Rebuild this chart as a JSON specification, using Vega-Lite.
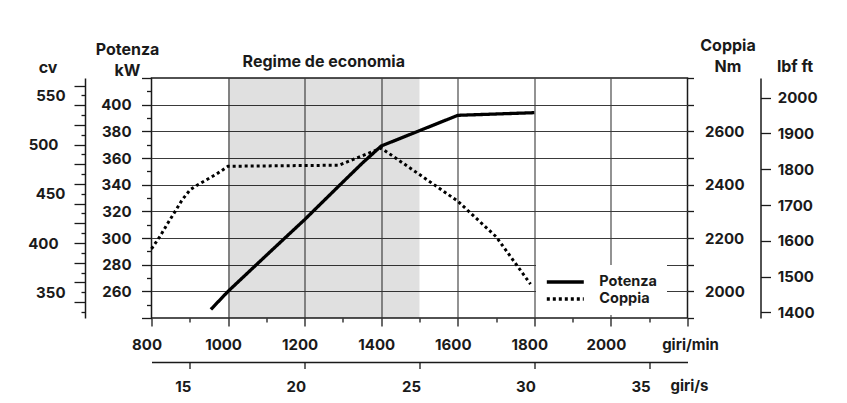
{
  "$schema": "https://vega.github.io/schema/vega-lite/v6.json",
  "width": 536,
  "height": 240,
  "autosize": {"type": "none"},
  "padding": {"left": 151.5, "top": 78, "right": 159.5, "bottom": 85},
  "background": "#ffffff",
  "config": {
    "font": "Inter",
    "numberFormat": "d",
    "view": {"stroke": "#1a1a1a", "strokeWidth": 1.5},
    "axis": {
      "labelFont": "Inter", "labelFontWeight": "bold", "labelFontSize": 15, "labelColor": "#1a1a1a",
      "titleFont": "Inter", "titleFontWeight": "bold", "titleFontSize": 16, "titleColor": "#1a1a1a",
      "tickColor": "#1a1a1a", "tickWidth": 1.3, "domainColor": "#1a1a1a", "domainWidth": 1.5,
      "gridColor": "#3a3a3a", "gridWidth": 1.1,
      "labelOverlap": false, "labelFlush": false, "labelBound": false
    }
  },
  "datasets": {
    "potenza": [
      {"rpm": 955, "kW": 246.4, "serie": "Potenza"},
      {"rpm": 1000, "kW": 260, "serie": "Potenza"},
      {"rpm": 1100, "kW": 287, "serie": "Potenza"},
      {"rpm": 1200, "kW": 313.8, "serie": "Potenza"},
      {"rpm": 1300, "kW": 342, "serie": "Potenza"},
      {"rpm": 1350, "kW": 356, "serie": "Potenza"},
      {"rpm": 1400, "kW": 369, "serie": "Potenza"},
      {"rpm": 1600, "kW": 392, "serie": "Potenza"},
      {"rpm": 1800, "kW": 394, "serie": "Potenza"}
    ],
    "coppia": [
      {"rpm": 800, "Nm": 2159, "serie": "Coppia"},
      {"rpm": 823, "Nm": 2208, "serie": "Coppia"},
      {"rpm": 842, "Nm": 2254, "serie": "Coppia"},
      {"rpm": 861, "Nm": 2298, "serie": "Coppia"},
      {"rpm": 880, "Nm": 2343, "serie": "Coppia"},
      {"rpm": 901, "Nm": 2381, "serie": "Coppia"},
      {"rpm": 917, "Nm": 2396, "serie": "Coppia"},
      {"rpm": 936, "Nm": 2412, "serie": "Coppia"},
      {"rpm": 969, "Nm": 2439, "serie": "Coppia"},
      {"rpm": 1000, "Nm": 2469, "serie": "Coppia"},
      {"rpm": 1290, "Nm": 2473, "serie": "Coppia"},
      {"rpm": 1400, "Nm": 2537, "serie": "Coppia"},
      {"rpm": 1500, "Nm": 2438, "serie": "Coppia"},
      {"rpm": 1600, "Nm": 2338, "serie": "Coppia"},
      {"rpm": 1700, "Nm": 2205, "serie": "Coppia"},
      {"rpm": 1790, "Nm": 2027, "serie": "Coppia"}
    ],
    "regime": [{"from": 1000, "to": 1500, "centro": 1250, "testo": "Regime de economia"}],
    "cvScale": [{"cv": 350}, {"cv": 550}],
    "lbfScale": [{"lbf": 1400}, {"lbf": 2000}],
    "giriScale": [{"giri": 15}, {"giri": 35}]
  },
  "layer": [
    {
      "layer": [
        {
          "data": {"name": "regime"},
          "mark": {"type": "rect", "color": "#000000", "opacity": 0.12},
          "encoding": {
            "x": {
              "field": "from", "type": "quantitative",
              "scale": {"domain": [800, 2200], "nice": false, "zero": false},
              "axis": {
                "orient": "bottom", "tickCount": 100,
                "values": [800, 900, 1000, 1100, 1200, 1300, 1400, 1500, 1600, 1700, 1800, 1900, 2000, 2100, 2200],
                "labelExpr": "datum.value % 200 == 0 && datum.value <= 2000 ? datum.label : ''",
                "tickSize": {"condition": {"test": "datum.value % 200 == 0", "value": 8}, "value": 4},
                "labelPadding": 11,
                "labelOffset": -5,
                "labelOverlap": false,
                "grid": true,
                "gridOpacity": {"condition": {"test": "datum.value % 200 == 0 && datum.value > 800 && datum.value < 2200", "value": 1}, "value": 0},
                "domain": false,
                "title": "giri/min",
                "titleX": 538.5, "titleY": 31, "titleAlign": "center", "titleBaseline": "alphabetic", "titleFontSize": 15
              }
            },
            "x2": {"field": "to"}
          }
        },
        {
          "data": {"name": "regime"},
          "mark": {"type": "text", "font": "Inter", "fontWeight": "bold", "fontSize": 16, "color": "#1a1a1a", "baseline": "alphabetic", "align": "center", "dy": -11.3},
          "encoding": {
            "x": {"field": "centro", "type": "quantitative"},
            "y": {"datum": 420, "type": "quantitative"},
            "text": {"field": "testo"}
          }
        },
        {
          "data": {"name": "potenza"},
          "mark": {"type": "line", "color": "#000000", "strokeWidth": 3.3, "strokeCap": "butt"},
          "encoding": {
            "x": {"field": "rpm", "type": "quantitative"},
            "y": {
              "field": "kW", "type": "quantitative",
              "scale": {"domain": [240, 420], "nice": false, "zero": false},
              "axis": {
                "orient": "left", "tickCount": 100,
                "values": [240, 250, 260, 270, 280, 290, 300, 310, 320, 330, 340, 350, 360, 370, 380, 390, 400, 410, 420],
                "labelExpr": "datum.value % 20 == 0 && datum.value >= 260 && datum.value <= 400 ? datum.label : ''",
                "tickSize": {"condition": {"test": "datum.value % 20 == 0", "value": 10}, "value": 5},
                "labelPadding": 10.5,
                "labelOverlap": false,
                "grid": true,
                "gridOpacity": {"condition": {"test": "datum.value % 20 == 0 && datum.value > 240 && datum.value < 420", "value": 1}, "value": 0},
                "domain": false,
                "title": ["Potenza", "kW"],
                "titleAngle": 0, "titleAlign": "center", "titleBaseline": "alphabetic",
                "titleX": -24.5, "titleY": -24, "titleLineHeight": 21.7
              }
            },
            "strokeDash": {
              "field": "serie", "type": "nominal",
              "scale": {"domain": ["Potenza", "Coppia"], "range": [[1, 0], [3, 3]]},
              "legend": {
                "title": null, "orient": "none", "legendX": 384.5, "legendY": 187,
                "fillColor": "#ffffff", "padding": 9,
                "symbolType": "M-3,0H3", "symbolSize": 152, "symbolStrokeWidth": 3.3,
                "symbolStrokeColor": "#000000", "symbolFillColor": "transparent",
                "symbolOffset": 12.3,
                "labelFont": "Inter", "labelFontSize": 14.5, "labelFontWeight": "bold", "labelColor": "#1a1a1a",
                "labelOffset": 26, "rowPadding": 2,
                "labelExpr": "datum.label + '       '"
              }
            }
          }
        }
      ]
    },
    {
      "data": {"name": "coppia"},
      "mark": {"type": "line", "color": "#000000", "strokeWidth": 3, "strokeCap": "butt"},
      "encoding": {
        "x": {"field": "rpm", "type": "quantitative", "scale": {"domain": [800, 2200], "nice": false, "zero": false}, "axis": null},
        "y": {
          "field": "Nm", "type": "quantitative",
          "scale": {"domain": [1900, 2800], "nice": false, "zero": false},
          "axis": {
            "orient": "right", "tickCount": 100,
            "values": [1900, 2000, 2100, 2200, 2300, 2400, 2500, 2600, 2700, 2800],
            "labelExpr": "datum.value % 200 == 0 && datum.value >= 2000 && datum.value <= 2600 ? datum.label : ''",
            "tickSize": 6, "labelPadding": 11, "domain": false, "grid": false, "labelOverlap": false,
            "title": ["Coppia", "Nm"],
            "titleAngle": 0, "titleAlign": "center", "titleBaseline": "alphabetic",
            "titleX": 40, "titleY": -28, "titleLineHeight": 21.7
          }
        },
        "strokeDash": {"field": "serie", "type": "nominal"}
      }
    },
    {
      "data": {"name": "cvScale"},
      "mark": {"type": "point", "opacity": 0},
      "encoding": {
        "y": {
          "field": "cv", "type": "quantitative",
          "scale": {"domain": [323.8, 567.7], "nice": false, "zero": false},
          "axis": {
            "orient": "left", "offset": 66.5, "tickCount": 100,
            "values": [330, 340, 350, 360, 370, 380, 390, 400, 410, 420, 430, 440, 450, 460, 470, 480, 490, 500, 510, 520, 530, 540, 550, 560],
            "labelExpr": "datum.value % 50 == 0 ? datum.label : ''",
            "tickSize": {"condition": {"test": "datum.value % 20 == 0", "value": 11}, "value": 4},
            "labelPadding": 16, "domain": true, "grid": false, "labelOverlap": false,
            "title": "cv", "titleAngle": 0, "titleAlign": "center", "titleBaseline": "alphabetic",
            "titleX": -37.5, "titleY": -5.3
          }
        }
      }
    },
    {
      "data": {"name": "lbfScale"},
      "mark": {"type": "point", "opacity": 0},
      "encoding": {
        "y": {
          "field": "lbf", "type": "quantitative",
          "scale": {"domain": [1384.6, 2055], "nice": false, "zero": false},
          "axis": {
            "orient": "right", "offset": 73, "tickCount": 100,
            "values": [1400, 1500, 1600, 1700, 1800, 1900, 2000],
            "tickSize": 10, "labelPadding": 6.7, "domain": true, "grid": false, "labelOverlap": false,
            "title": "lbf ft", "titleAngle": 0, "titleAlign": "center", "titleBaseline": "alphabetic",
            "titleX": 34, "titleY": -6.3
          }
        }
      }
    },
    {
      "data": {"name": "giriScale"},
      "mark": {"type": "point", "opacity": 0},
      "encoding": {
        "x": {
          "field": "giri", "type": "quantitative",
          "scale": {"domain": [13.3333, 36.6667], "nice": false, "zero": false},
          "axis": {
            "orient": "bottom", "offset": 44, "tickCount": 100,
            "values": [15, 20, 25, 30, 35],
            "tickSize": 6.5, "labelPadding": 10.5, "labelAlign": "right", "labelOffset": 1,
            "domain": true, "grid": false, "labelOverlap": false,
            "title": "giri/s", "titleX": 537.5, "titleY": 28.5, "titleAlign": "center", "titleBaseline": "alphabetic", "titleFontSize": 15
          }
        }
      }
    }
  ],
  "resolve": {"scale": {"x": "independent", "y": "independent"}}
}
